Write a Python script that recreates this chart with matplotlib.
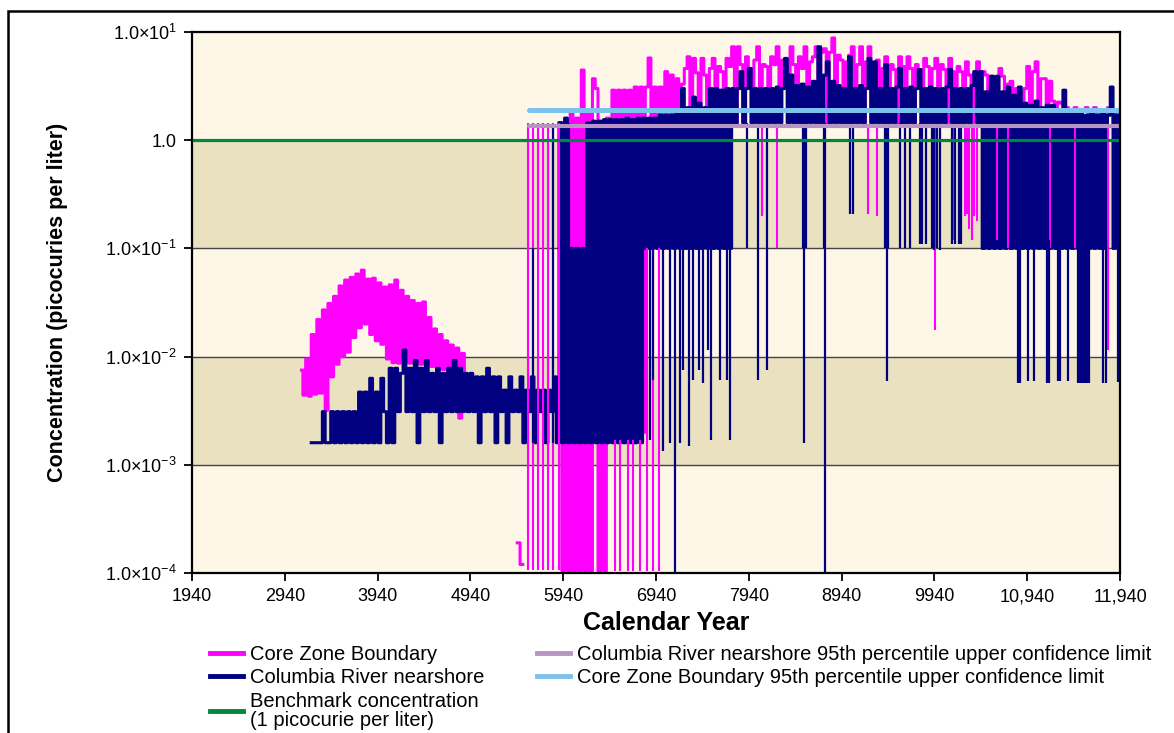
"""
Concentration history at the core zone boundary and Columbia River nearshore.
"""

import numpy as np
import matplotlib
matplotlib.use("Agg")
import matplotlib.pyplot as plt
import matplotlib.ticker as ticker
from matplotlib.lines import Line2D
from matplotlib.patches import Rectangle

plt.rcParams['font.family'] = ['Liberation Sans', 'DejaVu Sans']
plt.rcParams['mathtext.fontset'] = 'custom'
plt.rcParams['mathtext.rm'] = 'Liberation Sans'
plt.rcParams['mathtext.it'] = 'Liberation Sans:italic'
plt.rcParams['mathtext.bf'] = 'Liberation Sans:bold'
plt.rcParams['path.simplify'] = False

#--------------------------------------------------------------
# values (picocuries per liter)
# both series sampled on one 30-year grid, 3120..11940
#--------------------------------------------------------------
grid_years = np.arange(3120, 11941, 30)

# core zone boundary
cz_hump = [0.0075, 0.0044, 0.0095, 0.0043, 0.016, 0.0045, 0.022, 0.0046, 0.027, 0.0032,
           0.031, 0.0065, 0.036, 0.0085, 0.045, 0.0100, 0.051, 0.0110, 0.054, 0.015,
           0.058, 0.0185, 0.063, 0.020, 0.052, 0.016, 0.053, 0.014, 0.048, 0.013,
           0.044, 0.0095, 0.046, 0.0088, 0.051, 0.0087, 0.041, 0.0090, 0.036, 0.0087,
           0.033, 0.0086, 0.031, 0.0085, 0.032, 0.0083, 0.023, 0.0081, 0.018, 0.0079,
           0.016, 0.0076, 0.0140, 0.0072, 0.0128, 0.0068, 0.0120, 0.0027, 0.0107, 0.0065]
cz_gap1 = [np.nan] * 18
cz_blip = [1.9e-4, 1.2e-4]
cz_gap2 = [np.nan] * 13
cz_rise = [1.45, 1.05e-4, 1.5, 1.05e-4, 1.8, 1.05e-4, 1.6, 1.05e-4, 4.45, 1.05e-4,
           1.8, 1.05e-4, 3.7, 3.0, 1.05e-4, 1.5, 1.05e-4, 1.6, 0.002, 2.9,
           0.002, 2.9, 0.002, 2.9, 0.002, 2.9, 0.002, 3.1, 0.002, 3.1,
           0.002, 3.1]
cz_plateau = [5.75, 0.15, 3.1, 0.15, 3.1, 0.15, 4.3, 0.15, 4.0, 0.15,
              3.7, 0.15, 3.3, 4.6, 5.9, 0.15, 5.7, 4.2, 0.15, 5.7,
              4.0, 0.15, 4.6, 5.7, 0.15, 4.8, 4.3, 0.15, 5.7, 4.8,
              7.3, 1.45, 7.3, 5.0, 1.45, 5.9, 4.6, 1.45, 5.5, 7.3,
              1.45, 5.0, 4.8, 1.45, 5.9, 5.0, 7.3, 1.45, 5.5, 4.8,
              1.45, 7.3, 5.0, 1.45, 5.9, 4.6, 7.3, 1.45, 5.3, 5.9,
              7.3, 1.45, 6.5, 7.0, 1.45, 6.5, 8.8, 1.45, 6.1, 5.5,
              1.45, 5.3, 6.1, 7.3, 1.45, 5.0, 7.3, 1.45, 5.3, 7.3,
              1.45, 4.8, 5.5, 1.45, 4.6, 5.9, 1.45, 5.0, 4.5, 1.45,
              5.9, 4.8, 1.45, 5.9, 4.6, 1.45, 5.0, 4.5, 1.45, 5.7,
              4.8, 1.45, 4.6, 5.7, 1.45, 5.0, 4.5, 1.45, 5.7, 4.3,
              1.45, 4.8, 4.3, 1.45, 5.3, 4.0, 1.45, 4.3, 5.3, 1.45,
              4.3, 4.0, 1.45, 3.9, 3.7, 1.45, 4.6, 3.9, 1.45, 3.3,
              3.5, 1.45, 3.0, 2.8, 1.45, 3.0, 4.8, 1.45, 4.3, 5.3,
              1.45, 3.7, 3.7, 1.45, 3.5, 2.3, 1.45, 2.25, 2.2, 1.45,
              2.0, 1.9, 1.45, 2.0, 1.8, 1.45, 1.9, 2.0, 1.45, 1.8,
              2.0, 1.45, 1.9, 1.8, 1.45, 2.0, 1.8, 1.45, 1.9, 1.8]

# columbia river nearshore
crn_early = [np.nan, np.nan, np.nan, np.nan,
             0.0016, 0.0016, 0.0016, 0.0016, 0.0031, 0.0016, 0.0016,
             0.0031, 0.0016, 0.0031, 0.0016, 0.0031, 0.0016, 0.0031, 0.0016, 0.0031, 0.0016,
             0.0047, 0.0016, 0.0047, 0.0016, 0.0063, 0.0016, 0.0047, 0.0016, 0.0063, 0.0031,
             0.0016, 0.0078, 0.0016, 0.0078, 0.0031, 0.0070, 0.0115, 0.0031, 0.0078, 0.0031,
             0.0092, 0.0016, 0.0078, 0.0031, 0.0092, 0.0031, 0.0070, 0.0031, 0.0078, 0.0016,
             0.0070, 0.0031, 0.0078, 0.0031, 0.0092, 0.0031, 0.0078, 0.0031, 0.0070, 0.0031,
             0.0070, 0.0031, 0.0065, 0.0016, 0.0065, 0.0031, 0.0078, 0.0031, 0.0065, 0.0016,
             0.0065, 0.0031, 0.0049, 0.0016, 0.0065, 0.0031, 0.0049, 0.0031, 0.0065, 0.0016,
             0.0049, 0.0031, 0.0065, 0.0016, 0.0049, 0.0031, 0.0049, 0.0016, 0.0049, 0.0031, 0.0065]
crn_mid = [0.0016, 1.45, 0.0016, 1.6, 0.0016, 0.1, 0.0016, 0.1, 0.0016, 0.1,
           0.0016, 1.45, 0.0016, 1.5, 0.0016, 1.5, 0.0016, 1.55, 0.0016, 1.55,
           0.0016, 1.55, 0.0016, 1.55, 0.0016, 1.6, 0.0016, 1.55, 0.0016, 1.6,
           0.0016, 1.6, 0.1, 1.6, 0.1, 1.6, 0.1, 1.7, 0.1, 1.7,
           0.1, 1.7, 0.1, 1.8, 0.1, 3.0, 0.1, 2.0, 0.1, 2.5,
           0.1, 2.2, 0.1, 2.0, 0.1, 3.0, 0.1, 3.0, 0.1, 2.9,
           0.1, 3.0, 0.1, 3.0, 1.4]
crn_late = [3.0, 4.3, 1.45, 3.0, 4.6, 1.45, 3.0, 1.45, 3.0, 1.45,
            3.0, 1.45, 3.0, 1.45, 3.1, 1.45, 3.0, 5.7, 1.45, 4.0,
            1.45, 3.2, 1.45, 3.3, 1.45, 3.1, 1.45, 3.5, 1.45, 7.3,
            1.45, 4.0, 5.3, 1.45, 3.5, 1.45, 3.2, 1.45, 3.0, 1.45,
            5.9, 1.45, 3.0, 1.45, 3.2, 1.45, 3.0, 5.7, 1.45, 5.3,
            1.45, 3.0, 1.45, 5.0, 1.45, 3.0, 1.45, 3.1, 4.6, 1.45,
            3.0, 1.45, 3.1, 1.45, 3.0, 4.5, 1.45, 3.0, 1.45, 3.1,
            1.45, 3.0, 1.45, 3.0, 1.45, 3.1, 4.5, 1.45, 3.0, 1.45,
            3.0, 1.45, 3.0, 1.45, 3.2, 4.3, 1.45, 4.3, 0.1, 2.8,
            0.1, 3.9, 0.1, 3.9, 0.1, 2.8, 0.1, 3.1, 0.1, 2.6,
            0.1, 3.1, 0.1, 2.2, 0.1, 2.1, 0.1, 2.3, 0.1, 2.0,
            0.1, 2.1, 0.1, 2.1, 0.1, 1.9, 0.1, 2.9, 0.1, 1.9,
            0.1, 1.8, 0.1, 1.8, 0.1, 1.7, 0.1, 1.8, 0.1, 1.7,
            0.1, 1.8, 0.1, 1.7, 3.1, 0.1, 1.7, 0.1]

# single thin excursions (year, low end, high end)
cz_spike_years = [5564, 5618, 5672, 5726, 5780, 5834, 5898,
                  6498, 6552, 6642, 6696, 6768, 6840, 6911, 6976,
                  8078, 8240, 9228, 9318, 9811, 9946, 10144, 10265, 10290, 10310,
                  10341, 10370, 10400, 10611, 10737, 11186, 11455, 11814]
cz_spike_low = [1.07e-4, 1.07e-4, 1.07e-4, 1.07e-4, 1.07e-4, 1.07e-4, 1.07e-4,
                1.05e-4, 1.05e-4, 1.05e-4, 1.05e-4, 1.05e-4, 1.05e-4, 1.05e-4, 1.05e-4,
                0.2, 0.1, 0.21, 0.2, 0.12, 0.0176, 0.12, 0.2, 0.21, 0.15,
                0.12, 0.2, 0.18, 0.12, 0.1, 0.1, 0.1, 0.0115]
cz_spike_high = [1.44, 1.44, 1.44, 1.44, 1.44, 1.44, 1.44,
                 0.0017, 0.0017, 0.0017, 0.0017, 0.0017, 0.1, 0.1, 0.1,
                 1.4, 1.4, 1.4, 1.4, 1.4, 1.4, 1.4, 1.4, 1.4, 1.4,
                 1.4, 1.4, 1.4, 1.4, 1.4, 1.4, 1.4, 1.4]

crn_spike_years = [5618, 5833, 5990, 6005,
                   6875, 6911, 7019, 7091, 7145, 7199, 7227, 7299, 7335, 7407,
                   7450, 7504, 7533, 7630, 7702, 7737, 7917, 8043, 8133, 8520,
                   8535, 8560, 8745, 8761, 9035, 9060, 9410, 9425, 9440, 9569,
                   9622, 9676, 9790, 9810, 9850, 9915, 9940, 9965, 9995, 10130,
                   10160, 10200, 10230,
                   10844, 10862, 10952, 11013, 11150, 11165, 11178, 11275, 11293, 11383,
                   11491, 11505, 11520, 11535, 11550, 11565, 11580, 11595, 11610,
                   11760, 11789, 11922]
crn_spike_low = [0.0016, 0.0016, 0.1, 0.1,
                 0.0017, 0.0061, 0.00133, 0.0016, 7e-5, 0.0016, 0.0075, 0.0015, 0.0061, 0.0075,
                 0.0057, 0.0115, 0.0017, 0.0061, 0.0061, 0.0017, 0.1, 0.0061, 0.0075, 0.1,
                 0.0016, 0.1, 0.1, 7e-5, 0.21, 0.21, 0.1, 0.0059, 0.1, 0.1,
                 0.1, 0.1, 0.11, 0.11, 0.11, 0.1, 0.096, 0.1, 0.096, 0.11,
                 0.11, 0.11, 0.11,
                 0.0057, 0.0057, 0.006, 0.006, 0.0057, 0.0057, 0.0057, 0.006, 0.006, 0.006,
                 0.0057, 0.0057, 0.0057, 0.0057, 0.0057, 0.0057, 0.0057, 0.0057, 0.0057,
                 0.0057, 0.0057, 0.0058]
crn_spike_high = [0.1, 1.33, 1.45, 1.45] + [1.45] * 43 + [0.12] * 22

# reference levels
benchmark = 1.0
crn_ucl = 1.35
cz_ucl = 1.9
ucl_years = [5570, 11940]
benchmark_years = [1940, 11940]

xtick_years = [1940, 2940, 3940, 4940, 5940, 6940, 7940, 8940, 9940, 10940, 11940]
xtick_labels = ["1940", "2940", "3940", "4940", "5940", "6940", "7940", "8940",
                "9940", "10,940", "11,940"]
ytick_vals = [1e-4, 1e-3, 1e-2, 1e-1, 1.0, 10.0]
ytick_labels = [r"1.0$\times$10$^{-4}$", r"1.0$\times$10$^{-3}$", r"1.0$\times$10$^{-2}$",
                r"1.0$\times$10$^{-1}$", "1.0", r"1.0$\times$10$^{1}$"]

cz_conc = np.array(cz_hump + cz_gap1 + cz_blip + cz_gap2 + cz_rise + cz_plateau)
crn_conc = np.array(crn_early + crn_mid + crn_late)

#--------------------------------------------------------------
# colours
#--------------------------------------------------------------
cream = "#FEF7E7"
tan = "#EAE1C1"
c_cz = "#FF00FF"
c_crn = "#000080"
c_bench = "#00873C"
c_crn_ucl = "#B894C2"
c_cz_ucl = "#7CC2EC"

#---------------------------
# figure
#---------------------------
fig = plt.figure(figsize=(11.74, 7.33), dpi=100)
ax = fig.add_axes([192 / 1174, 1 - 573 / 733, 928 / 1174, 541 / 733])

ax.set_yscale("log")
ax.set_xlim(1940, 11940)
ax.set_ylim(1e-4, 10)
ax.set_facecolor(cream)
ax.axhspan(1e-3, 1e-2, color=tan, zorder=0, lw=0)
ax.axhspan(1e-1, 1.0, color=tan, zorder=0, lw=0)
for yv in ytick_vals[1:-1]:
    ax.axhline(yv, color="#444444", lw=1.0, zorder=1)

# data
ax.plot(grid_years, cz_conc, color=c_cz, lw=2.2, drawstyle="steps-mid",
        zorder=3, snap=False)
ax.plot(grid_years, crn_conc, color=c_crn, lw=2.2, drawstyle="steps-mid",
        zorder=4, snap=False)
ax.vlines(cz_spike_years, cz_spike_low, cz_spike_high, color=c_cz, lw=1.5, zorder=5)
ax.vlines(crn_spike_years, crn_spike_low, crn_spike_high, color=c_crn, lw=1.6, zorder=6)

ax.plot(benchmark_years, [benchmark] * 2, color=c_bench, lw=2.3, zorder=7)
ax.plot(ucl_years, [crn_ucl] * 2, color=c_crn_ucl, lw=3.0, zorder=7,
        solid_capstyle="round")
ax.plot(ucl_years, [cz_ucl] * 2, color=c_cz_ucl, lw=3.6, zorder=7,
        solid_capstyle="round")

#---------------------------------
# axes, ticks, labels
#---------------------------------
ax.set_xticks(xtick_years)
ax.set_xticklabels(xtick_labels)
ax.set_yticks(ytick_vals)
ax.set_yticklabels(ytick_labels)
ax.yaxis.set_minor_locator(ticker.NullLocator())
ax.tick_params(direction="out", length=6, width=1.3, labelsize=13, pad=5,
               color="black")
for sp in ax.spines.values():
    sp.set_linewidth(1.6)
    sp.set_zorder(10)

ax.set_xlabel("Calendar Year", fontsize=18, fontweight="bold")
ax.xaxis.set_label_coords((666 - 192) / 928, -(611 - 573) / 541)
ax.set_ylabel("Concentration (picocuries per liter)", fontsize=15.5, fontweight="bold")
ax.yaxis.set_label_coords(-(192 - 68) / 928, 0.5)

# legend
handles = [Line2D([], [], color=c_cz, lw=3.5),
           Line2D([], [], color=c_crn, lw=3.5),
           Line2D([], [], color=c_bench, lw=3.5),
           Line2D([], [], color=c_crn_ucl, lw=3.5),
           Line2D([], [], color=c_cz_ucl, lw=3.5)]
labels = ["Core Zone Boundary",
          "Columbia River nearshore",
          "Benchmark concentration\n(1 picocurie per liter)",
          "Columbia River nearshore 95th percentile upper confidence limit",
          "Core Zone Boundary 95th percentile upper confidence limit"]
leg = fig.legend(handles, labels, loc="upper left",
                 bbox_to_anchor=(210 / 1174, 1 - 645 / 733),
                 ncol=2, frameon=False, fontsize=14.5, handlelength=1.65,
                 handletextpad=0.35, labelspacing=0.22, columnspacing=2.6,
                 borderpad=0, borderaxespad=0)
for t in leg.get_texts():
    t.set_linespacing(1.02)

# outer frame
fig.add_artist(Rectangle((8 / 1174, -0.5), 2.0, 1.5 - 10.5 / 733, fill=False,
                         lw=1.8, edgecolor="black", transform=fig.transFigure,
                         clip_on=False))

fig.savefig("out.png", dpi=100)
